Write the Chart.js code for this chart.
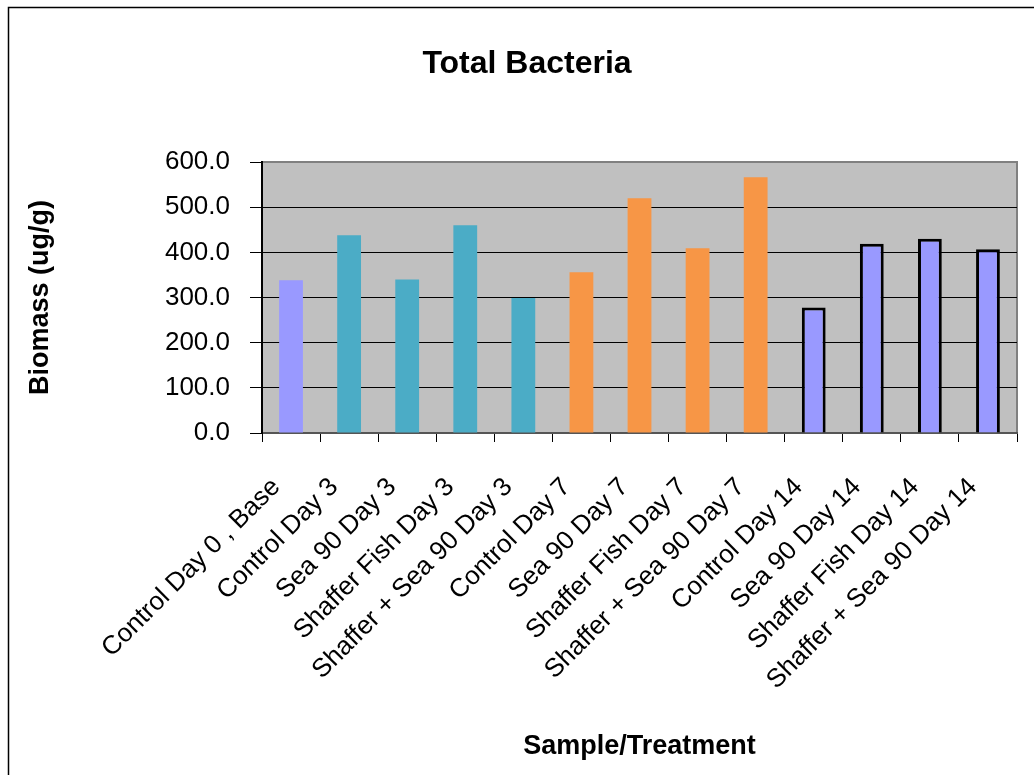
<!DOCTYPE html>
<html>
<head>
<meta charset="utf-8">
<script src="https://cdn.jsdelivr.net/npm/chart.js@4"></script>
<style>
  body { margin: 0; background: #fff; }
  #wrap { width: 1034px; height: 775px; }
</style>
</head>
<body>
<div id="wrap"><canvas id="chartCanvas" width="1034" height="775"></canvas></div>
<script>
// data
const categories = [
    "Control Day 0 , Base",
    "Control Day 3", "Sea 90 Day 3", "Shaffer Fish Day 3", "Shaffer + Sea 90 Day 3",
    "Control Day 7", "Sea 90 Day 7", "Shaffer Fish Day 7", "Shaffer + Sea 90 Day 7",
    "Control Day 14", "Sea 90 Day 14", "Shaffer Fish Day 14", "Shaffer + Sea 90 Day 14"
];
const biomass = [338, 438, 340, 460, 299, 356, 520, 409, 566, 278, 419, 430, 407];
const sampleDay = [0, 3, 3, 3, 3, 7, 7, 7, 7, 14, 14, 14, 14];
const yTicks = [0, 100, 200, 300, 400, 500, 600];
const chartTitle = "Total Bacteria";

const dayColor = { 0: "#9999FF", 3: "#4BACC6", 7: "#F79646", 14: "#9999FF" };
const FONT = "'Liberation Sans', Arial, sans-serif";

const plotBg = {
    id: "plotBg",
    beforeDraw(chart) {
        const { ctx, chartArea: a } = chart;
        ctx.save();
        ctx.fillStyle = "#fff";
        ctx.fillRect(0, 0, chart.width, chart.height);
        // outer frame (left + top only, picture is cropped)
        ctx.strokeStyle = "#000";
        ctx.lineWidth = 1.5;
        ctx.beginPath();
        ctx.moveTo(8.5, chart.height);
        ctx.lineTo(8.5, 7.5);
        ctx.lineTo(chart.width, 7.5);
        ctx.stroke();
        ctx.fillStyle = "#C0C0C0";
        ctx.fillRect(a.left, a.top, a.width, a.height);
        ctx.strokeStyle = "#808080";
        ctx.lineWidth = 2;
        ctx.strokeRect(a.left, a.top, a.width, a.height);
        // title sits a bit right of canvas centre in the original
        ctx.fillStyle = "#000";
        ctx.font = "bold 32px " + FONT;
        ctx.textAlign = "center";
        ctx.textBaseline = "middle";
        ctx.fillText(chartTitle, 527, 64);
        ctx.restore();
    }
};

new Chart(document.getElementById("chartCanvas"), {
    type: "bar",
    data: {
        labels: categories,
        datasets: [{
            data: biomass,
            backgroundColor: sampleDay.map(d => dayColor[d]),
            borderColor: "#000",
            borderWidth: sampleDay.map(d => d === 14 ? 3 : 0),
            barPercentage: 0.41,
            categoryPercentage: 1
        }]
    },
    options: {
        responsive: false,
        animation: false,
        layout: { padding: { left: 0, right: 17, top: 162, bottom: 0 } },
        plugins: {
            legend: { display: false },
            tooltip: { enabled: false },
            title: { display: false }
        },
        scales: {
            x: {
                afterFit: s => {
                    s.height = 342;
                    s.paddingLeft = 0;
                    s.paddingRight = 0;
                },
                grid: { display: true, drawOnChartArea: false, offset: true, tickLength: 9, tickColor: "#000" },
                border: { color: "#555", width: 2 },
                ticks: {
                    autoSkip: false,
                    minRotation: 45,
                    maxRotation: 45,
                    padding: 30,
                    labelOffset: -15,
                    color: "#000",
                    font: { family: FONT, size: 26 }
                },
                title: {
                    display: true,
                    text: "Sample/Treatment",
                    color: "#000",
                    font: { family: FONT, size: 27, weight: "bold" },
                    padding: { top: 0, bottom: 12 }
                }
            },
            y: {
                min: 0,
                max: 600,
                afterFit: s => { s.width = 262; },
                afterBuildTicks: s => { s.ticks = yTicks.map(v => ({ value: v })); },
                grid: {
                    color: c => c.tick && c.tick.value === 600 ? "#808080" : "#000",
                    tickLength: 12,
                    tickColor: "#000"
                },
                border: { color: "#000", width: 2 },
                ticks: {
                    padding: 20,
                    color: "#000",
                    font: { family: FONT, size: 26 },
                    callback: v => v.toFixed(1)
                },
                title: {
                    display: true,
                    text: "Biomass (ug/g)",
                    color: "#000",
                    font: { family: FONT, size: 27, weight: "bold" },
                    padding: { top: 24, bottom: 0 }
                }
            }
        }
    },
    plugins: [plotBg]
});
</script>
</body>
</html>
